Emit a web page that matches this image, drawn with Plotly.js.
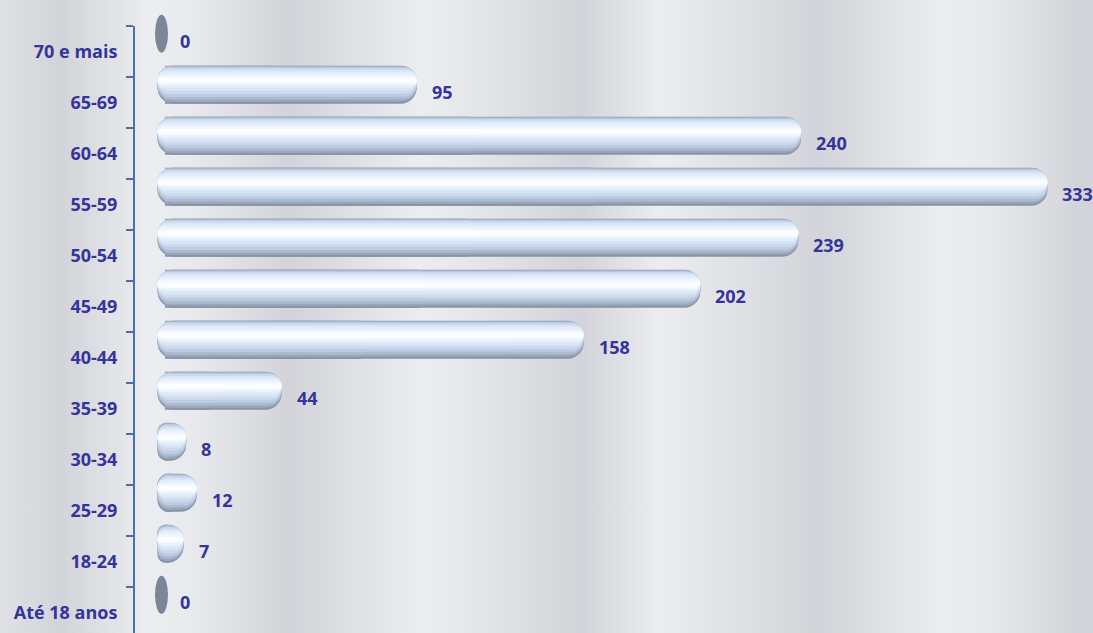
<!DOCTYPE html>
<html>
<head>
<meta charset="utf-8">
<script src="https://cdn.plot.ly/plotly-3.0.1.min.js"></script>
<style>
  html, body { margin: 0; padding: 0; }
  body {
    width: 1093px; height: 633px; overflow: hidden;
    background: linear-gradient(to right, #e0e1e5 0px, #d3d4d9 60px, #ecedf1 150px, #e9eaee 190px,
      #d3d4d9 290px, #ecedf1 420px, #e6e7eb 470px, #d3d4d9 580px, #ecedf1 660px,
      #d3d4d9 820px, #ecedf1 940px, #e8e9ed 990px, #d3d4d9 1080px);
  }
  #chart { width: 1093px; height: 633px; }
</style>
</head>
<body>
<div id="chart"></div>
<script>
let faixas = ['Até 18 anos', '18-24', '25-29', '30-34', '35-39', '40-44',
  '45-49', '50-54', '55-59', '60-64', '65-69', '70 e mais']
let valores = [0, 7, 12, 8, 44, 158, 202, 239, 333, 240, 95, 0]

let azul = '#34349a'
let fonte = 'Open Sans, Arial, sans-serif'

let espessura = 0.745   // em unidades de categoria
let centro = 0.35       // barras sobem em relação ao centro da categoria
let tampa = -2.8        // ponta arredondada à esquerda do zero
let yMin = -0.4, yMax = 11.5

// faixas do cilindro, de fora para dentro: [base, topo] (fração da espessura) e cor
let camadas = [
  [0.00, 1.00, '#8793a7'],
  [0.05, 0.99, '#9aa7ba'],
  [0.11, 0.98, '#adbbcf'],
  [0.18, 0.96, '#bdcce1'],
  [0.26, 0.93, '#cbdaee'],
  [0.34, 0.89, '#d8e5f5'],
  [0.41, 0.84, '#e3edf9'],
  [0.47, 0.78, '#ecf3fc'],
  [0.52, 0.72, '#f4f9fe'],
  [0.56, 0.67, '#fbfdff']
]

let pxPorCategoria = 607 / (yMax - yMin)

let data = []
camadas.forEach(c => {
  let w = (c[1] - c[0]) * espessura
  let off = centro - espessura / 2 + c[0] * espessura
  let raio = Math.round(w * pxPorCategoria * 0.42)
  // corpo da barra (arredondado à direita)
  data.push({
    type: 'bar', orientation: 'h',
    y: faixas, x: valores,
    width: w, offset: off,
    marker: {color: c[2], cornerradius: raio, line: {width: 0}},
    hoverinfo: 'skip'
  })
  // mesma barra vista do meio para a esquerda (arredondada à esquerda)
  data.push({
    type: 'bar', orientation: 'h',
    y: faixas,
    base: valores.map(v => v / 2),
    x: valores.map(v => v === 0 ? null : tampa - v / 2),
    width: w, offset: off,
    marker: {color: c[2], cornerradius: raio, line: {width: 0}},
    hoverinfo: 'skip'
  })
})

// zeros viram uma pequena elipse cinza
let shapes = []
valores.forEach((v, i) => {
  if (v === 0) {
    let yc = (i + centro - yMin) / (yMax - yMin)
    let h = (espessura / 2) / (yMax - yMin)
    shapes.push({
      type: 'circle', xref: 'x', yref: 'paper',
      x0: -3.75, x1: 1.15,
      y0: yc - h, y1: yc + h,
      fillcolor: '#7b8698', line: {width: 0}
    })
  }
})

let annotations = valores.map((v, i) => ({
  x: v, y: i, xref: 'x', yref: 'y',
  text: String(v), showarrow: false,
  xanchor: 'left', yanchor: 'middle',
  xshift: 13, yshift: 11,
  font: {family: fonte, size: 18, color: azul, weight: 'bold'}
}))

let layout = {
  width: 1093, height: 633,
  margin: {l: 135, r: 0, t: 26, b: 0},
  paper_bgcolor: 'rgba(0,0,0,0)',
  plot_bgcolor: 'rgba(0,0,0,0)',
  barmode: 'overlay',
  showlegend: false,
  xaxis: {
    range: [-11.3, 350.2],
    showgrid: false, zeroline: false, showline: false,
    showticklabels: false, ticks: ''
  },
  yaxis: {
    type: 'category',
    range: [yMin, yMax],
    tickson: 'boundaries',
    ticks: 'outside', ticklen: 7, tickwidth: 2, tickcolor: '#4b70a6',
    showline: true, linecolor: '#4b70a6', linewidth: 2,
    showgrid: false, zeroline: false,
    ticklabelstandoff: 12,
    tickfont: {family: fonte, size: 18, color: azul, weight: 'bold'}
  },
  shapes: shapes,
  annotations: annotations
}

Plotly.newPlot('chart', data, layout, {staticPlot: true})
</script>
</body>
</html>
